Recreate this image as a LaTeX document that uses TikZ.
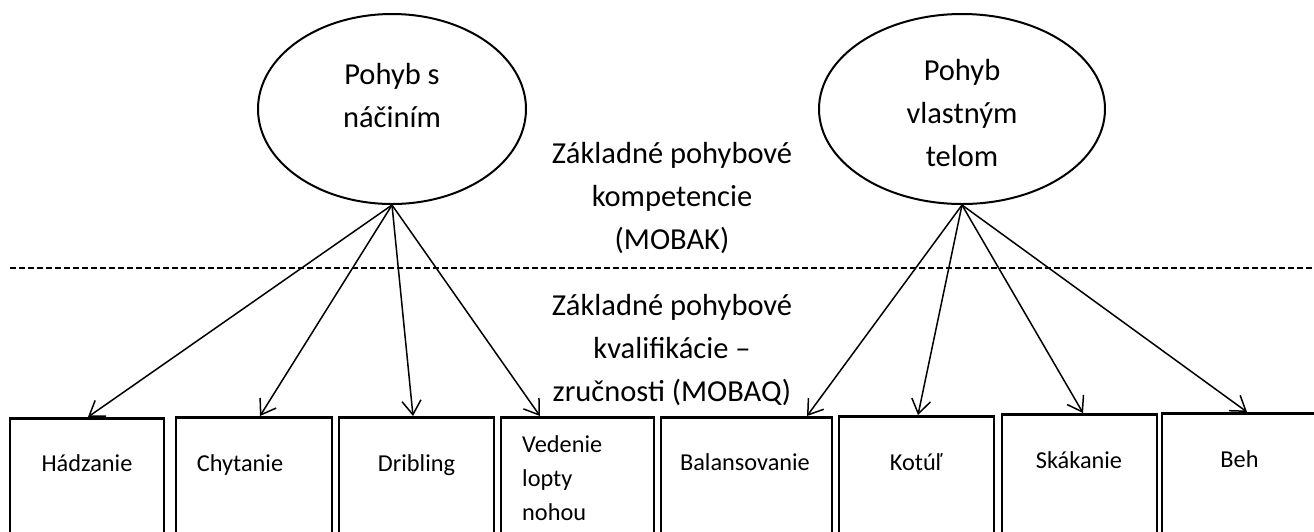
\documentclass[tikz,border=0pt]{standalone}
\usepackage{fontspec}
\setmainfont{Carlito}
\usetikzlibrary{shapes.geometric,arrows.meta}
\tikzset{
  factor/.style={draw, ellipse, line width=2pt, inner sep=0pt, minimum height=190pt},
  skill/.style={draw, rectangle, line width=2.6pt, inner sep=0pt, anchor=north, minimum height=160pt},
  bigtxt/.style={font=\fontsize{30.5}{43}\selectfont, align=center, inner sep=0pt},
  boxtxt/.style={font=\fontsize{24.3}{33.5}\selectfont, inner sep=0pt, anchor=base},
  link/.style={line width=1.5pt, -{Straight Barb[length=14pt,width=19pt,line width=1.5pt]}},
  sep/.style={line width=1.5pt, dash pattern=on 6pt off 3pt}
}
\begin{document}
\begin{tikzpicture}[x=1pt,y=-1pt]
\useasboundingbox (0,0) rectangle (1314,531);
\clip (0,0) rectangle (1314,531);
% factors
\node[factor, minimum width=268pt] (L) at (392,109) {};
\node[factor, minimum width=286pt] (R) at (962,109) {};
\node[bigtxt] (Lt) at (392,96) {Pohyb s\\náčiním};
\node[bigtxt] (Rt) at (962,113) {Pohyb\\vlastným\\telom};
% middle labels
\node[bigtxt] (top) at (672,198) {Základné pohybové\\kompetencie\\(MOBAK)};
\node[bigtxt] (bot) at (672,350) {Základné pohybové\\kvalifikácie –\\zručnosti (MOBAQ)};
\draw[sep] (10,268) -- (1314,268);
% boxes
\node[skill, minimum width=154pt] (b1) at (87,417) {};
\node[skill, minimum width=156pt] (b2) at (254,416) {};
\node[skill, minimum width=155pt] (b3) at (416.5,416) {};
\node[skill, minimum width=153pt] (b4) at (577.5,416) {};
\node[skill, minimum width=171pt] (b5) at (746.5,416) {};
\node[skill, minimum width=155pt] (b6) at (916.5,415) {};
\node[skill, minimum width=155pt] (b7) at (1079.5,413) {};
\node[skill, minimum width=155pt] (b8) at (1239.5,412) {};
% box texts
\node[boxtxt] (t1) at (87,471) {Hádzanie};
\node[boxtxt] (t2) at (240,471) {Chytanie};
\node[boxtxt] (t3) at (416.5,471) {Dribling};
\node[boxtxt, anchor=base west] (t4a) at (522,452) {Vedenie};
\node[boxtxt, anchor=base west] (t4b) at (522,486) {lopty};
\node[boxtxt, anchor=base west] (t4c) at (522,520) {nohou};
\node[boxtxt] (t5) at (745,470) {Balansovanie};
\node[boxtxt] (t6) at (916,470) {Kotúľ};
\node[boxtxt] (t7) at (1079,468) {Skákanie};
\node[boxtxt] (t8) at (1239.5,467) {Beh};
% arrows
\draw[link] (L.south) -- ([xshift=1pt]b1.north);
\draw[link] (L.south) -- ([xshift=6pt]b2.north);
\draw[link] (L.south) -- ([xshift=-3.5pt]b3.north);
\draw[link] (L.south) -- ([xshift=-37.5pt]b4.north);
\draw[link] (R.south) -- ([xshift=60.5pt]b5.north);
\draw[link] (R.south) -- ([xshift=1.5pt]b6.north);
\draw[link] (R.south) -- ([xshift=3.5pt]b7.north);
\draw[link] (R.south) -- ([xshift=7.5pt]b8.north);
\end{tikzpicture}
\end{document}
